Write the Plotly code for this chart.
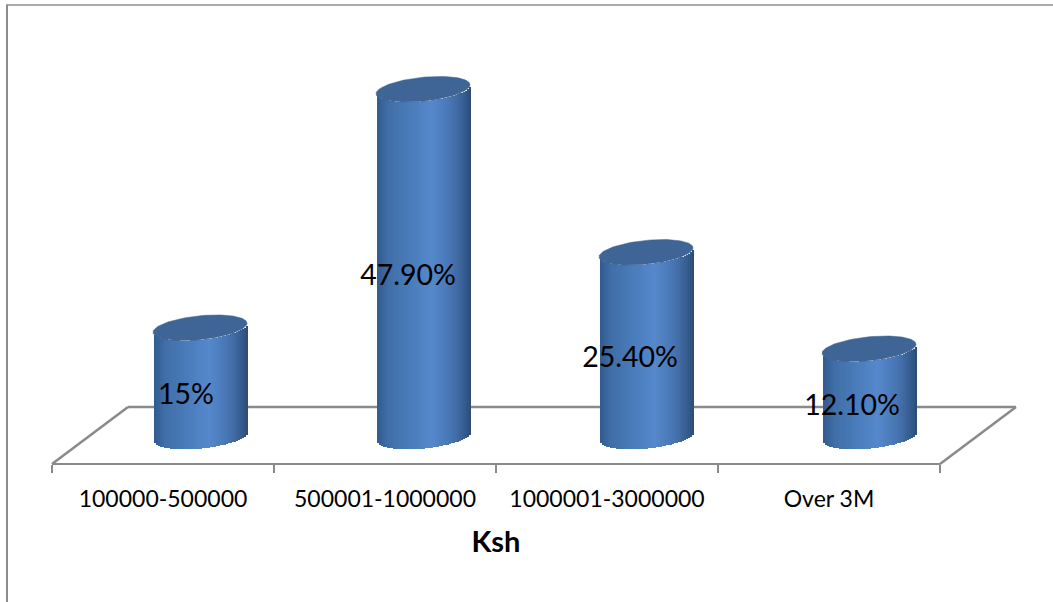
import math
import plotly.graph_objects as go

categories = ["100000-500000", "500001-1000000", "1000001-3000000", "Over 3M"]
values = [15, 47.9, 25.4, 12.1]
value_labels = ["15%", "47.90%", "25.40%", "12.10%"]
axis_title = "Ksh"

W, H = 1053, 602
FONT = "Lato, Carlito, Calibri, sans-serif"
GRID = "#8a8a8a"
PPU = 7.25          # pixels per percentage point
SPACING = 223       # pixels per bar slot
HALF_W = 47         # cylinder half width
TILT = 4.5          # rise of ellipse axis
ELL_B = 12.0        # half height of ellipse
STRIP = 2


def fx(px):
    return px / W


def fy(py):
    return 1 - py / H


def lerp_color(t):
    stops = [
        (0.00, (50, 90, 142)),
        (0.12, (64, 110, 168)),
        (0.35, (74, 124, 186)),
        (0.58, (85, 136, 204)),
        (0.78, (72, 118, 180)),
        (0.92, (56, 94, 146)),
        (1.00, (44, 76, 116)),
    ]
    for (t0, c0), (t1, c1) in zip(stops, stops[1:]):
        if t <= t1:
            k = (t - t0) / (t1 - t0)
            return "rgb(%d,%d,%d)" % tuple(round(a + (b - a) * k) for a, b in zip(c0, c1))
    return "rgb(44,76,116)"


def edge(dx, sign):
    r = max(0.0, 1 - (dx / HALF_W) ** 2)
    return (TILT * dx / HALF_W + sign * ELL_B * math.sqrt(r)) / PPU


idx = list(range(len(categories)))
fig = go.Figure()

# invisible carrier for the category axis
fig.add_trace(go.Scatter(x=categories, y=values, mode="markers", opacity=0,
                         showlegend=False, hoverinfo="skip", xaxis="x", yaxis="y"))

# cylinder bodies, as thin bar strips carrying the horizontal shading
for s in range(0, 2 * HALF_W, STRIP):
    dx = s + STRIP / 2 - HALF_W
    base = edge(dx, -1)
    fig.add_trace(go.Bar(
        x=idx, y=values, base=[base] * len(values),
        width=STRIP / SPACING, offset=(s - HALF_W) / SPACING,
        marker=dict(color=lerp_color((s + STRIP / 2) / (2 * HALF_W)), line=dict(width=0)),
        showlegend=False, hoverinfo="skip", xaxis="x2", yaxis="y2"))

# cylinder caps
angles = [i * 2 * math.pi / 120 for i in range(121)]
for i, v in zip(idx, values):
    dxs = [HALF_W * math.cos(a) for a in angles]
    ys = [v + (TILT * math.cos(a) + ELL_B * math.sin(a)) / PPU for a in angles]
    fig.add_trace(go.Scatter(
        x=[i + d / SPACING for d in dxs], y=ys, mode="lines", fill="toself",
        fillcolor="#3e6595", line=dict(color="#3e6595", width=0.5),
        showlegend=False, hoverinfo="skip", xaxis="x2", yaxis="y2"))

# data labels
fig.add_trace(go.Scatter(
    x=categories, y=[v / 2 for v in values], text=value_labels, mode="text",
    textposition="middle center", textfont=dict(family=FONT, size=28.5, color="#000000"),
    showlegend=False, hoverinfo="skip", xaxis="x3", yaxis="y3", cliponaxis=False))

BASE2 = 436.5
BASE3 = 451.5
hidden = dict(visible=False, fixedrange=True)

fig.update_layout(
    width=W, height=H,
    margin=dict(l=0, r=0, t=0, b=0),
    paper_bgcolor="#ffffff", plot_bgcolor="rgba(0,0,0,0)",
    barmode="overlay", showlegend=False, bargap=0,
    xaxis=dict(
        domain=[fx(52), fx(940)], type="category", categoryorder="array",
        categoryarray=categories, range=[-0.5, 3.5],
        tickson="boundaries", ticks="outside", ticklen=8, tickwidth=2, tickcolor=GRID,
        showline=True, linecolor=GRID, linewidth=2, showgrid=False, zeroline=False,
        anchor="free", position=fy(464), ticklabelstandoff=14,
        tickfont=dict(family=FONT, size=23, color="#000000"),
        title=dict(text="<b>%s</b>" % axis_title, standoff=20,
                   font=dict(family=FONT, size=29, color="#000000")),
        fixedrange=True),
    yaxis=dict(domain=[0, 1], range=[0, 1], **hidden),
    xaxis2=dict(domain=[fx(88.5), fx(980.5)], range=[-0.5, 3.5], anchor="y2", **hidden),
    yaxis2=dict(domain=[fy(480), fy(5)],
                range=[-(480 - BASE2) / PPU, (BASE2 - 5) / PPU], anchor="x2", **hidden),
    xaxis3=dict(domain=[fx(75), fx(963)], type="category", categoryorder="array",
                categoryarray=categories, range=[-0.5, 3.5], anchor="y3", **hidden),
    yaxis3=dict(domain=[fy(495), fy(5)],
                range=[-(495 - BASE3) / PPU, (BASE3 - 5) / PPU], anchor="x3", **hidden),
    shapes=[
        # floor of the 3-D plot
        dict(type="line", xref="paper", yref="paper", x0=fx(52), y0=fy(464), x1=fx(128), y1=fy(407),
             line=dict(color=GRID, width=2.5), layer="below"),
        dict(type="line", xref="paper", yref="paper", x0=fx(128), y0=fy(407), x1=fx(1016), y1=fy(407),
             line=dict(color=GRID, width=2.5), layer="below"),
        dict(type="line", xref="paper", yref="paper", x0=fx(1016), y0=fy(407), x1=fx(940), y1=fy(464),
             line=dict(color=GRID, width=2.5), layer="below"),
        # chart frame
        dict(type="line", xref="paper", yref="paper", x0=fx(7), y0=fy(5), x1=fx(7), y1=0,
             line=dict(color="#8c8c8c", width=2), layer="below"),
        dict(type="line", xref="paper", yref="paper", x0=fx(6), y0=fy(5), x1=1, y1=fy(5),
             line=dict(color="#8c8c8c", width=1.5), layer="below"),
    ],
)

fig.write_html("out.html", config={"displayModeBar": False},
               post_script="document.body.style.margin='0';")
